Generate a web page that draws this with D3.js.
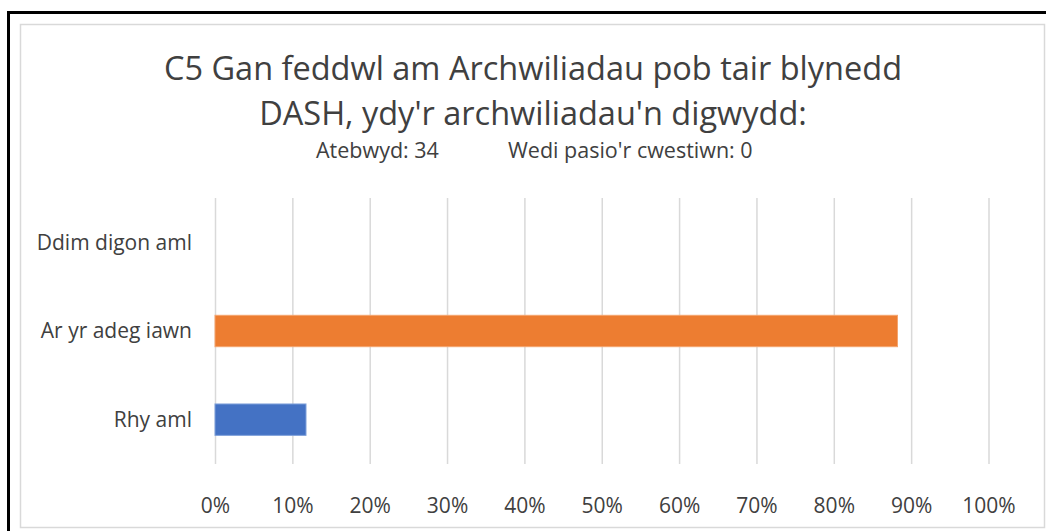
<!DOCTYPE html>
<html>
<head>
<meta charset="utf-8">
<script src="https://cdn.jsdelivr.net/npm/d3@7"></script>
<style>
  body { margin: 0; background: #fff; }
  text { font-family: "Open Sans", sans-serif; fill: #404040; }
</style>
</head>
<body>
<div id="viz"></div>
<script>
// data (34 answers: 4, 30, 0)
var categories = ["Ddim digon aml", "Ar yr adeg iawn", "Rhy aml"];
var values = [0, 30 / 34, 4 / 34];
var barColors = ["#A5A5A5", "#ED7D31", "#4472C4"];
var barStrokes = ["#C9C9C9", "#F4A46E", "#7FA0DA"];
var tickValues = [0, 0.1, 0.2, 0.3, 0.4, 0.5, 0.6, 0.7, 0.8, 0.9, 1];
var titleLines = ["C5 Gan feddwl am Archwiliadau pob tair blynedd", "DASH, ydy'r archwiliadau'n digwydd:"];
var subtitleParts = ["Atebwyd: 34", "Wedi pasio'r cwestiwn: 0"];

// dimensions
var width = 1046;
var height = 531;
var plotLeft = 215, plotRight = 988.5;
var plotTop = 198, plotBottom = 464;
var centerX = 533;

var svg = d3.select("#viz")
    .append("svg")
    .attr("width", width)
    .attr("height", height);

// outer black frame (runs off right/bottom edge)
svg.append("rect")
    .attr("x", 8.5).attr("y", 12.5)
    .attr("width", 1100).attr("height", 600)
    .attr("fill", "none").attr("stroke", "#000").attr("stroke-width", 3);

// chart area border
svg.append("rect")
    .attr("x", 20.5).attr("y", 24.5)
    .attr("width", 1024).attr("height", 503)
    .attr("fill", "#fff").attr("stroke", "#D9D9D9").attr("stroke-width", 1.5);

// title
svg.selectAll(".title")
    .data(titleLines)
    .enter()
    .append("text")
    .attr("class", "title")
    .attr("x", centerX)
    .attr("y", function(d, i) { return 80 + i * 45; })
    .attr("text-anchor", "middle")
    .style("font-size", "32.5px")
    .text(function(d) { return d; });

svg.selectAll(".subtitle")
    .data(subtitleParts)
    .enter()
    .append("text")
    .attr("class", "subtitle")
    .attr("x", function(d, i) { return i == 0 ? 316 : 508; })
    .attr("y", 158)
    .style("font-size", "21.5px")
    .text(function(d) { return d; });

// scales
var xscale = d3.scaleLinear()
    .domain([0, 1])
    .range([plotLeft, plotRight]);

var yscale = d3.scaleBand()
    .domain(categories)
    .range([plotTop, plotBottom])
    .paddingInner(0.646)
    .paddingOuter(0.323);

// gridlines + x labels
var xaxis = svg.append("g")
    .attr("transform", "translate(0," + plotBottom + ")")
    .call(d3.axisBottom(xscale)
        .tickValues(tickValues)
        .tickSize(-(plotBottom - plotTop))
        .tickFormat(d3.format(".0%")));

xaxis.select(".domain").remove();
xaxis.selectAll("line").attr("stroke", "#D9D9D9").attr("stroke-width", 1.5);
xaxis.selectAll("text")
    .attr("y", 49).attr("dy", null)
    .attr("fill", null)
    .style("font-size", "21px")
    .style("font-family", "'Open Sans', sans-serif");

// y labels
var yaxis = svg.append("g")
    .attr("transform", "translate(" + plotLeft + ",0)")
    .call(d3.axisLeft(yscale).tickSize(0).tickPadding(23));

yaxis.select(".domain").remove();
yaxis.selectAll("text")
    .attr("dy", "0.35em")
    .attr("fill", null)
    .style("font-size", "21px")
    .style("font-family", "'Open Sans', sans-serif");

// bars
svg.selectAll(".bar")
    .data(values)
    .enter()
    .append("rect")
    .attr("class", "bar")
    .attr("x", xscale(0))
    .attr("y", function(d, i) { return yscale(categories[i]); })
    .attr("width", function(d) { return xscale(d) - xscale(0); })
    .attr("height", yscale.bandwidth())
    .attr("fill", function(d, i) { return barColors[i]; })
    .attr("stroke", function(d, i) { return d > 0 ? barStrokes[i] : "none"; })
    .attr("stroke-width", 1);
</script>
</body>
</html>
